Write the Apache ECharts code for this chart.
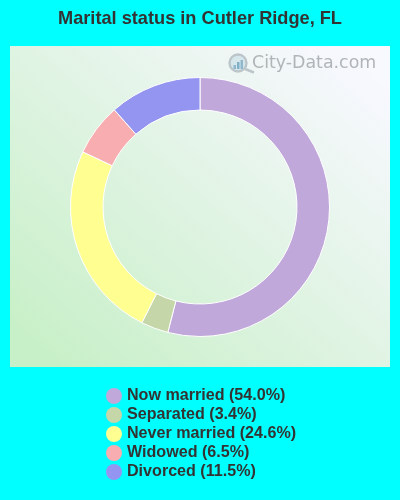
<!DOCTYPE html>
<html>
<head>
<meta charset="utf-8">
<style>html,body{margin:0;padding:0;background:#00ffff}#c{width:400px;height:500px}</style>
<script src="https://cdn.jsdelivr.net/npm/echarts@6/dist/echarts.min.js"></script>
</head>
<body>
<div id="c"></div>
<script>
const titleText = 'Marital status in Cutler Ridge, FL';
const categories = ['Now married', 'Separated', 'Never married', 'Widowed', 'Divorced'];
const shares = [54.0, 3.4, 24.6, 6.5, 11.5];
const colors = ['#c0a8da', '#c5d7a9', '#ffff91', '#f8adb0', '#9494f1'];

const chart = echarts.init(document.getElementById('c'), null, {renderer: 'canvas'});
const labelOf = {};
categories.forEach((c, i) => { labelOf[c] = c + ' (' + shares[i].toFixed(1) + '%)'; });

chart.setOption({
  animation: false,
  backgroundColor: '#00ffff',
  title: {
    text: titleText, left: 'center', top: 5,
    textStyle: {fontFamily: 'Liberation Sans', fontWeight: 'bold', fontSize: 18.2, color: '#333333'}
  },
  legend: {
    orient: 'vertical', left: 101, top: 383,
    itemWidth: 16, itemHeight: 16, itemGap: 3, itemStyle: {borderWidth: 0}, icon: 'circle',
    selectedMode: false,
    formatter: n => labelOf[n],
    textStyle: {fontFamily: 'Liberation Sans', fontWeight: 'bold', fontSize: 16.1, lineHeight: 16, color: '#333333'},
    data: categories
  },
  graphic: [
    {type: 'rect', z: -10, shape: {x: 10, y: 46, width: 380, height: 321},
     style: {fill: new echarts.graphic.LinearGradient(0.88, 0, 0.14, 1, [
       {offset: 0, color: '#f8f8ff'}, {offset: 1, color: '#c8f0c8'}])}},
    {type: 'text', z: -5, x: 252, y: 55, style: {text: 'City-Data.com', fontFamily: 'DejaVu Sans', fontSize: 17.4, fill: '#b0b6b8'}},
    {type: 'circle', z: -5, shape: {cx: 238, cy: 63, r: 8.5}, style: {fill: 'rgba(190,215,225,0.5)', stroke: '#bcc6ca', lineWidth: 2.4}},
    {type: 'line', z: -5, shape: {x1: 245, y1: 69, x2: 254, y2: 72.5}, style: {stroke: '#bcc6ca', lineWidth: 2.5}},
    {type: 'rect', z: -4, shape: {x: 233.5, y: 65, width: 2.5, height: 4}, style: {fill: '#8fb8cc'}},
    {type: 'rect', z: -4, shape: {x: 237, y: 62, width: 2.5, height: 7}, style: {fill: '#7fb0c8'}},
    {type: 'rect', z: -4, shape: {x: 240.5, y: 60, width: 2.5, height: 9}, style: {fill: '#8fb8cc'}}
  ],
  series: [{
    type: 'pie',
    center: [200, 207],
    radius: [97, 129.5],
    startAngle: 90,
    clockwise: true,
    label: {show: false},
    labelLine: {show: false},
    itemStyle: {borderColor: '#ffffff', borderWidth: 1},
    emphasis: {disabled: true},
    data: categories.map((c, i) => ({name: c, value: shares[i], itemStyle: {color: colors[i]}}))
  }]
});
</script>
</body>
</html>
